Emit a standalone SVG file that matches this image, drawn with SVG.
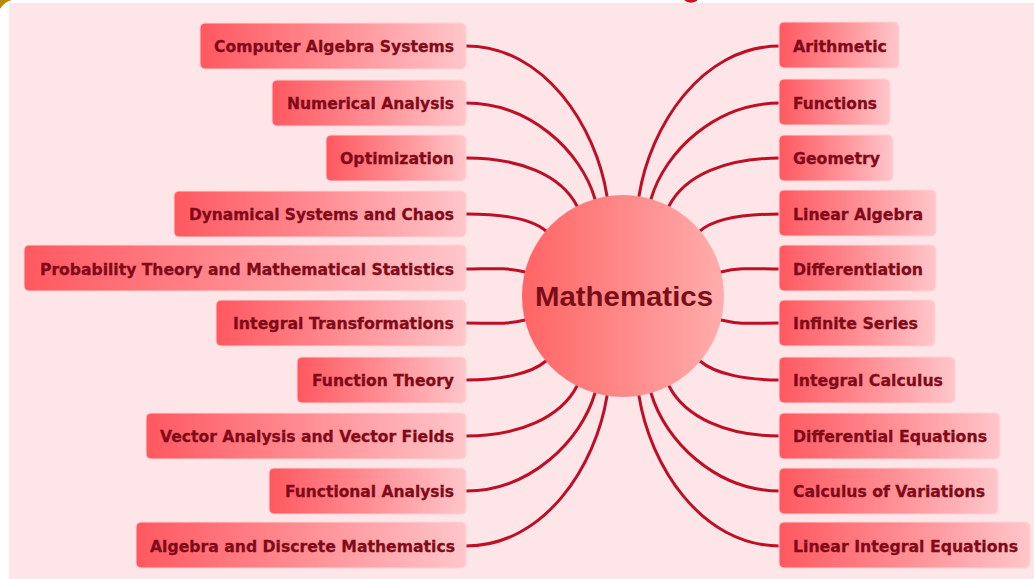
<svg xmlns="http://www.w3.org/2000/svg" width="1034" height="579" viewBox="0 0 1034 579">
<defs>
<linearGradient id="box" x1="0" y1="0" x2="1" y2="0">
<stop offset="0" stop-color="#ff5860"/>
<stop offset="0.5" stop-color="#ff8d93"/>
<stop offset="1" stop-color="#ffc6ca"/>
</linearGradient>
<linearGradient id="hub" x1="0" y1="0" x2="1" y2="0">
<stop offset="0" stop-color="#ff6464"/>
<stop offset="1" stop-color="#ffadad"/>
</linearGradient>
</defs>
<style>
.bg{fill:#fee5e7}
.box{fill:url(#box);stroke:#ffd3d6;stroke-width:1}
.lbl{font-family:"DejaVu Sans",Verdana,sans-serif;font-weight:bold;font-size:16px;fill:#800a18;stroke:#800a18;stroke-width:0.3}
.l{text-anchor:end}
.con{fill:none;stroke:#bd1026;stroke-width:3;stroke-linecap:round}
.hubtxt{font-family:"Liberation Sans",Arial,sans-serif;font-weight:bold;font-size:28px;fill:#7a0e16;text-anchor:middle}
</style>
<rect x="0" y="0" width="1034" height="579" fill="#ffffff"/>
<rect class="bg" x="9" y="3" width="1025" height="576"/>
<path d="M0,9 Q4,2 12,0 L0,0 Z" fill="#b8860b"/>
<path d="M684,0 Q690,5 697,1 L697,0 Z" fill="#d0101c"/>

<g id="connectors">
<path class="con" d="M466,46 C545,46 596,127 607,196"/>
<path class="con" d="M466,103 C530,103 581,151 595,199"/>
<path class="con" d="M466,158 C520,158 561,175 577,206"/>
<path class="con" d="M466,214 C500,214 531,218 546,231"/>
<path class="con" d="M466,269 C490,269 505,267 525,272"/>
<path class="con" d="M466,323 C490,323 505,325 525,320"/>
<path class="con" d="M466,380 C500,380 531,374 546,361"/>
<path class="con" d="M466,436 C520,436 561,417 577,386"/>
<path class="con" d="M466,491 C530,491 581,441 595,393"/>
<path class="con" d="M466,546 C545,546 596,465 607,396"/>
<path class="con" d="M780,46 C701,46 650,127 639,196"/>
<path class="con" d="M780,103 C716,103 665,151 651,199"/>
<path class="con" d="M780,158 C726,158 685,175 669,206"/>
<path class="con" d="M780,214 C746,214 715,218 700,231"/>
<path class="con" d="M780,269 C756,269 741,267 721,272"/>
<path class="con" d="M780,323 C756,323 741,325 721,320"/>
<path class="con" d="M780,380 C746,380 715,374 700,361"/>
<path class="con" d="M780,436 C726,436 685,417 669,386"/>
<path class="con" d="M780,491 C716,491 665,441 651,393"/>
<path class="con" d="M780,546 C701,546 650,465 639,396"/>
</g>

<g id="center">
<circle cx="623" cy="296" r="101" fill="url(#hub)"/>
<text class="hubtxt" x="624" y="306" textLength="178" lengthAdjust="spacingAndGlyphs">Mathematics</text>
</g>

<g id="n-cas"><rect class="box" x="200" y="23" width="266" height="46" rx="5"/><text class="lbl l" x="454" y="52" textLength="240" lengthAdjust="spacingAndGlyphs">Computer Algebra Systems</text></g>
<g id="n-numerical"><rect class="box" x="272" y="80" width="194" height="46" rx="5"/><text class="lbl l" x="454" y="109" textLength="167" lengthAdjust="spacingAndGlyphs">Numerical Analysis</text></g>
<g id="n-optimization"><rect class="box" x="326" y="135" width="140" height="46" rx="5"/><text class="lbl l" x="454" y="164" textLength="114" lengthAdjust="spacingAndGlyphs">Optimization</text></g>
<g id="n-dynamical"><rect class="box" x="174" y="191" width="292" height="46" rx="5"/><text class="lbl l" x="454" y="220" textLength="265" lengthAdjust="spacingAndGlyphs">Dynamical Systems and Chaos</text></g>
<g id="n-probability"><rect class="box" x="24" y="245" width="442" height="46" rx="5"/><text class="lbl l" x="454" y="275" textLength="414" lengthAdjust="spacingAndGlyphs">Probability Theory and Mathematical Statistics</text></g>
<g id="n-integraltrans"><rect class="box" x="216" y="300" width="250" height="46" rx="5"/><text class="lbl l" x="454" y="329" textLength="221" lengthAdjust="spacingAndGlyphs">Integral Transformations</text></g>
<g id="n-functiontheory"><rect class="box" x="297" y="357" width="169" height="46" rx="5"/><text class="lbl l" x="454" y="386" textLength="142" lengthAdjust="spacingAndGlyphs">Function Theory</text></g>
<g id="n-vector"><rect class="box" x="146" y="413" width="320" height="46" rx="5"/><text class="lbl l" x="454" y="442" textLength="294" lengthAdjust="spacingAndGlyphs">Vector Analysis and Vector Fields</text></g>
<g id="n-functional"><rect class="box" x="269" y="468" width="197" height="46" rx="5"/><text class="lbl l" x="454" y="497" textLength="169" lengthAdjust="spacingAndGlyphs">Functional Analysis</text></g>
<g id="n-algebra"><rect class="box" x="136" y="522" width="330" height="46" rx="5"/><text class="lbl l" x="455" y="552" textLength="305" lengthAdjust="spacingAndGlyphs">Algebra and Discrete Mathematics</text></g>

<g id="n-arithmetic"><rect class="box" x="779" y="22" width="120" height="46" rx="5"/><text class="lbl" x="793" y="52" textLength="94" lengthAdjust="spacingAndGlyphs">Arithmetic</text></g>
<g id="n-functions"><rect class="box" x="779" y="79" width="111" height="46" rx="5"/><text class="lbl" x="793" y="109" textLength="84" lengthAdjust="spacingAndGlyphs">Functions</text></g>
<g id="n-geometry"><rect class="box" x="779" y="135" width="114" height="46" rx="5"/><text class="lbl" x="793" y="164" textLength="87" lengthAdjust="spacingAndGlyphs">Geometry</text></g>
<g id="n-linalg"><rect class="box" x="779" y="190" width="157" height="46" rx="5"/><text class="lbl" x="793" y="220" textLength="130" lengthAdjust="spacingAndGlyphs">Linear Algebra</text></g>
<g id="n-diff"><rect class="box" x="779" y="245" width="157" height="46" rx="5"/><text class="lbl" x="793" y="275" textLength="130" lengthAdjust="spacingAndGlyphs">Differentiation</text></g>
<g id="n-series"><rect class="box" x="779" y="300" width="156" height="46" rx="5"/><text class="lbl" x="793" y="329" textLength="125" lengthAdjust="spacingAndGlyphs">Infinite Series</text></g>
<g id="n-intcalc"><rect class="box" x="779" y="357" width="176" height="46" rx="5"/><text class="lbl" x="793" y="386" textLength="150" lengthAdjust="spacingAndGlyphs">Integral Calculus</text></g>
<g id="n-diffeq"><rect class="box" x="779" y="413" width="221" height="46" rx="5"/><text class="lbl" x="793" y="442" textLength="194" lengthAdjust="spacingAndGlyphs">Differential Equations</text></g>
<g id="n-calcvar"><rect class="box" x="779" y="468" width="219" height="46" rx="5"/><text class="lbl" x="793" y="497" textLength="192" lengthAdjust="spacingAndGlyphs">Calculus of Variations</text></g>
<g id="n-linint"><rect class="box" x="779" y="522" width="251" height="46" rx="5"/><text class="lbl" x="793" y="552" textLength="225" lengthAdjust="spacingAndGlyphs">Linear Integral Equations</text></g>
</svg>
